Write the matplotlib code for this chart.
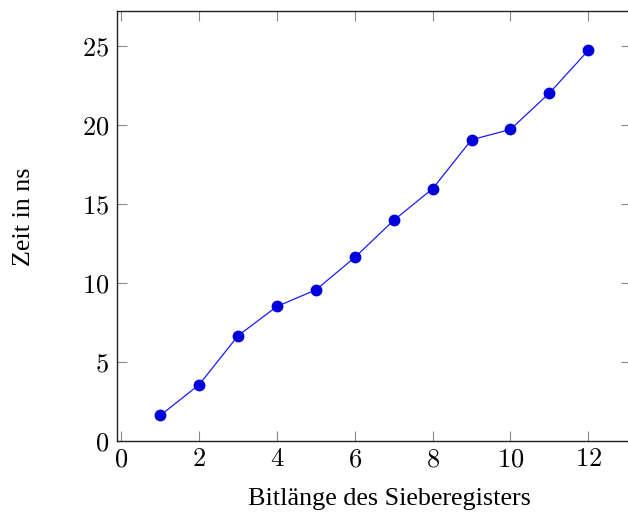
import matplotlib
matplotlib.use("Agg")
import matplotlib.pyplot as plt

# --- Data ---
bits = [1, 2, 3, 4, 5, 6, 7, 8, 9, 10, 11, 12]
zeit_ns = [1.6, 3.55, 6.65, 8.5, 9.55, 11.6, 13.95, 15.95, 19.05, 19.7, 22.0, 24.7]
x_ticks = [0, 2, 4, 6, 8, 10, 12]
y_ticks = [0, 5, 10, 15, 20, 25]

plt.rcParams['mathtext.fontset'] = 'cm'
label_font = {'family': 'Liberation Serif', 'size': 18.8}

W, H = 628, 520
fig = plt.figure(figsize=(W / 100, H / 100), dpi=100)
# axes box in pixel terms (right edge slightly past the figure, like the reference)
left, right, top, bottom = 117.5, 631.0, 11.0, 440.7
ax = fig.add_axes([left / W, (H - bottom) / H, (right - left) / W, (bottom - top) / H])

ax.plot(bits, zeit_ns, color='#1a1aff', lw=0.9, marker='o', markersize=7.5,
        markerfacecolor='#0000dd', markeredgecolor='#0000dd')

ax.set_xlim(-0.1, 13.1)
ax.set_ylim(0, 27.2)
ax.set_xticks(x_ticks)
ax.set_yticks(y_ticks)
ax.set_xticklabels([f"${t}$" for t in x_ticks], fontsize=19)
ax.set_yticklabels([f"${t}$" for t in y_ticks], fontsize=19)
ax.tick_params(direction='in', length=7, width=0.8, color='#888888',
               top=True, right=True, pad=4)
ax.tick_params(axis='y', pad=6)

for s in ax.spines.values():
    s.set_linewidth(1.0)
    s.set_color('#222222')

ax.set_xlabel("Bitlänge des Sieberegisters", fontdict=label_font)
ax.xaxis.set_label_coords(0.529, -0.150)
ax.xaxis.label.set_verticalalignment('baseline')

ax.set_ylabel("Zeit in ns", fontdict=label_font)
ax.yaxis.set_label_coords(-0.182, 0.521)
ax.yaxis.label.set_verticalalignment('center')

fig.savefig("out.png", dpi=100)
